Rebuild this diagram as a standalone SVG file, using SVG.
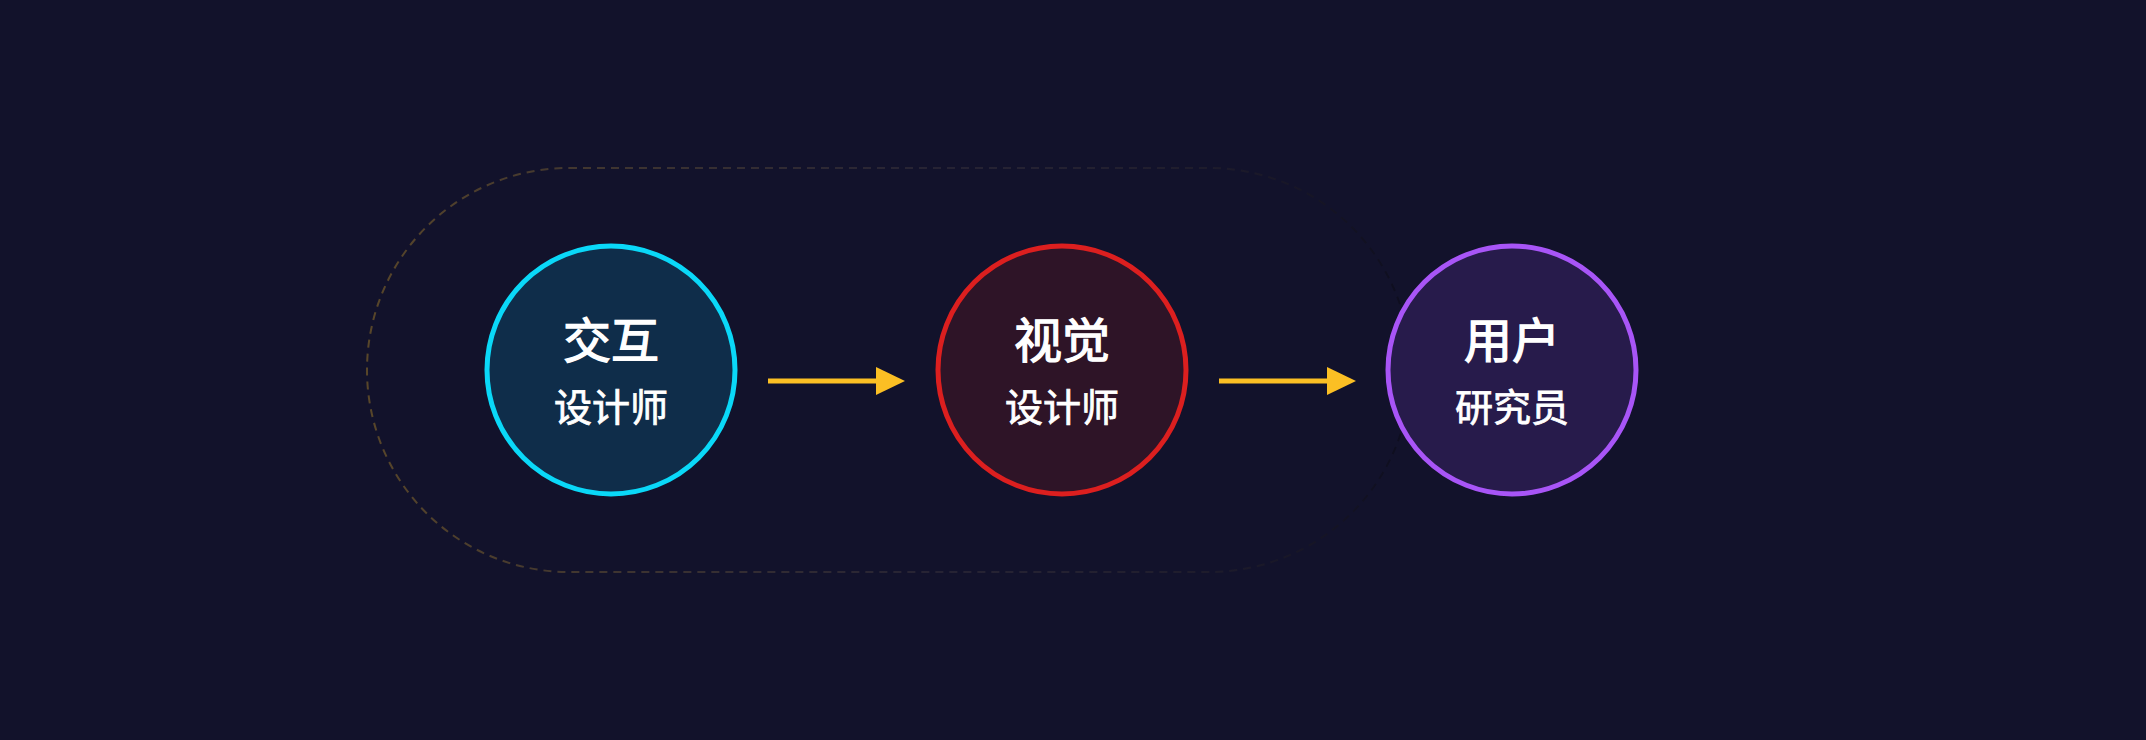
<svg xmlns="http://www.w3.org/2000/svg" width="2146" height="740" viewBox="0 0 2146 740">
  <defs>
    <linearGradient id="loopGrad" gradientUnits="userSpaceOnUse" x1="367" y1="0" x2="1411" y2="0">
      <stop offset="0" stop-color="#fbbf24" stop-opacity="0.3"/>
      <stop offset="0.55" stop-color="#a08a6a" stop-opacity="0.14"/>
      <stop offset="1" stop-color="#000000" stop-opacity="0.3"/>
    </linearGradient>
    <marker id="arrowHead" markerUnits="userSpaceOnUse" markerWidth="30" markerHeight="30" refX="0" refY="14" orient="auto">
      <path d="M0,0 L29,14 L0,28 Z" fill="#fbbf24"/>
    </marker>
    <style>
      .title { font-family: "Noto Sans CJK SC", "Noto Sans", sans-serif; font-size: 48px; font-weight: 400; fill: #ffffff; stroke: #ffffff; stroke-width: 1.3; text-anchor: middle; }
      .sub { font-family: "Noto Sans CJK SC", "Noto Sans", sans-serif; font-size: 38px; font-weight: 400; fill: #ffffff; stroke: #ffffff; stroke-width: 0.8; text-anchor: middle; }
      .node circle { stroke-width: 5; }
      .conn { stroke: #fbbf24; stroke-width: 5; fill: none; }
    </style>
  </defs>
  <rect x="0" y="0" width="2146" height="740" fill="#12122b"/>
  <g id="loop">
    <rect x="367" y="168" width="1044" height="404" rx="202" ry="202" fill="none" stroke="url(#loopGrad)" stroke-width="2" stroke-dasharray="8 6"/>
  </g>
  <g id="connectors">
    <line class="conn" x1="768" y1="381" x2="876" y2="381" marker-end="url(#arrowHead)"/>
    <line class="conn" x1="1219" y1="381" x2="1327" y2="381" marker-end="url(#arrowHead)"/>
  </g>
  <g id="node-interaction" class="node">
    <circle cx="611" cy="370" r="124" fill="#0f2d4a" stroke="#0ad8f8"/>
    <text class="title" x="611" y="358">交互</text>
    <text class="sub" x="611" y="421">设计师</text>
  </g>
  <g id="node-visual" class="node">
    <circle cx="1062" cy="370" r="124" fill="#2e1427" stroke="#dc1f1f"/>
    <text class="title" x="1062" y="358">视觉</text>
    <text class="sub" x="1062" y="421">设计师</text>
  </g>
  <g id="node-research" class="node">
    <circle cx="1512" cy="370" r="124" fill="#271b4b" stroke="#a855f7"/>
    <text class="title" x="1512" y="358">用户</text>
    <text class="sub" x="1512" y="421">研究员</text>
  </g>
</svg>
